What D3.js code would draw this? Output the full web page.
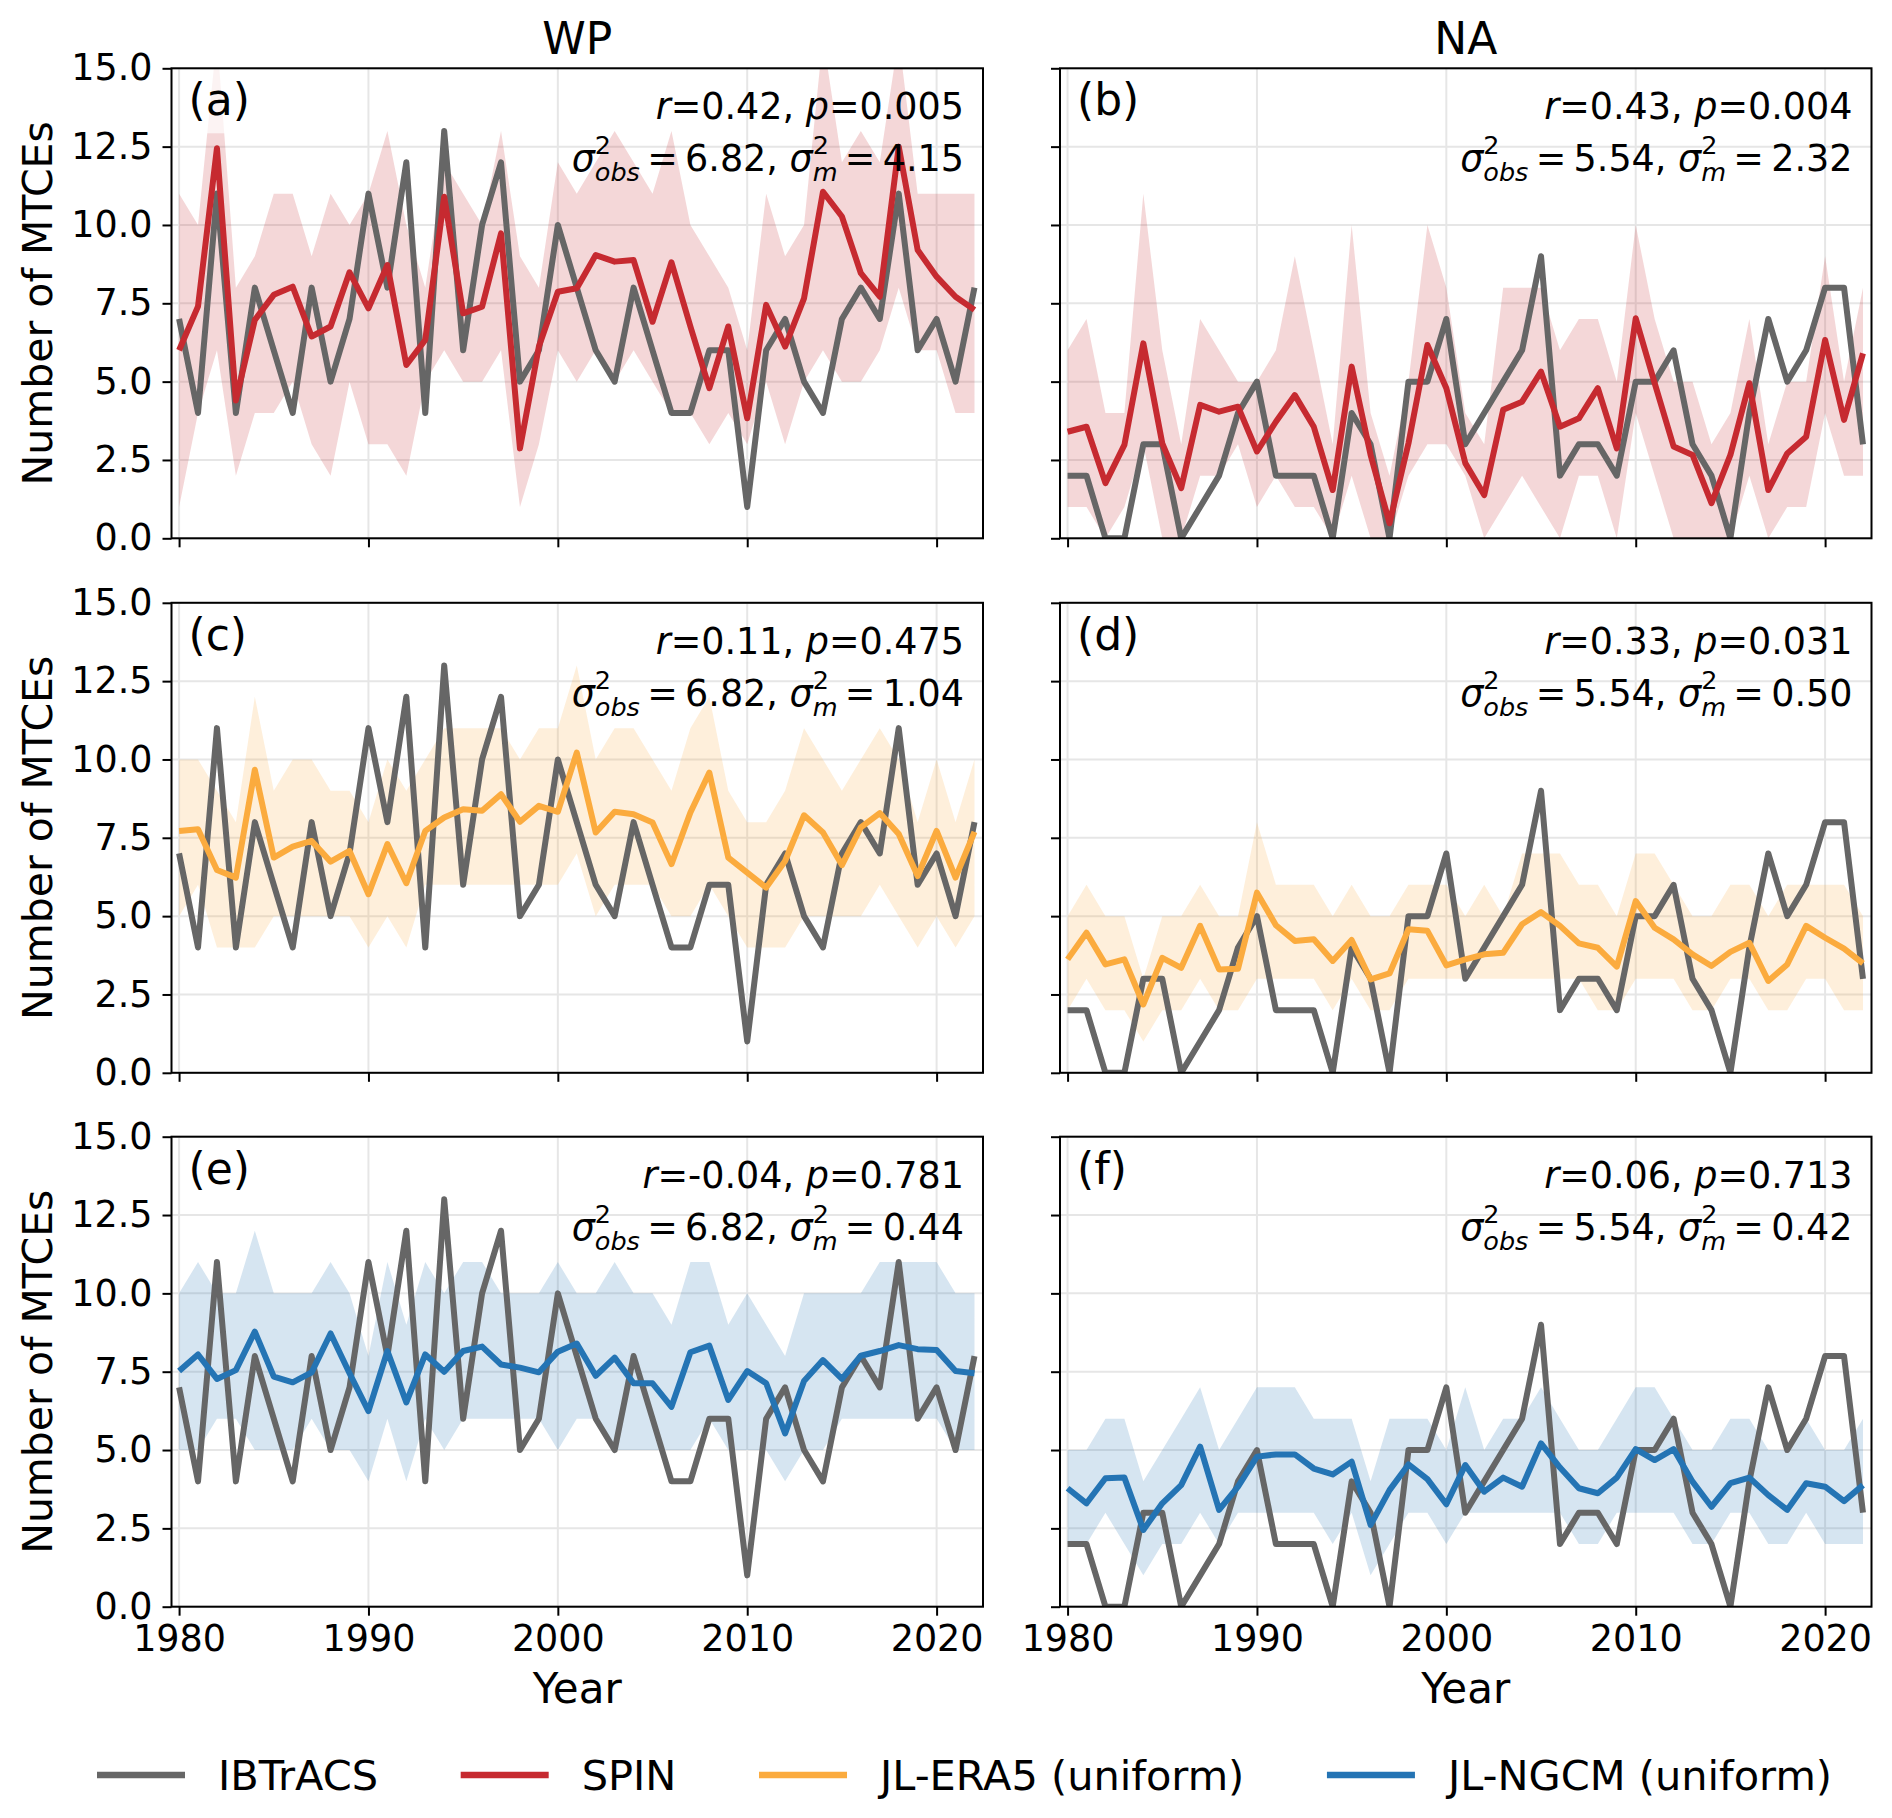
<!DOCTYPE html>
<meta charset="utf-8">
<script src="https://cdn.jsdelivr.net/npm/d3@7"></script>
<style>
  body { margin: 0; background: #fff; }
  text { font-family: "DejaVu Sans", sans-serif; fill: #000; }
</style>
<body>
<script>

// years on the x axis
var years = [1980, 1981, 1982, 1983, 1984, 1985, 1986, 1987, 1988, 1989,
             1990, 1991, 1992, 1993, 1994, 1995, 1996, 1997, 1998, 1999,
             2000, 2001, 2002, 2003, 2004, 2005, 2006, 2007, 2008, 2009,
             2010, 2011, 2012, 2013, 2014, 2015, 2016, 2017, 2018, 2019,
             2020, 2021, 2022]
var xTicks = [1980, 1990, 2000, 2010, 2020]
var yTicks = [0, 2.5, 5, 7.5, 10, 12.5, 15]

// observed counts
var ibtracsWP = [7, 4, 11, 4, 8, 6, 4, 8, 5, 7, 11, 8, 12, 4, 13, 6, 10, 12, 5, 6,
                 10, 8, 6, 5, 8, 6, 4, 4, 6, 6, 1, 6, 7, 5, 4, 7, 8, 7, 11, 6, 7, 5, 8]
var ibtracsNA = [2, 2, 0, 0, 3, 3, 0, 1, 2, 4, 5, 2, 2, 2, 0, 4, 3, 0, 5, 5,
                 7, 3, 4, 5, 6, 9, 2, 3, 3, 2, 5, 5, 6, 3, 2, 0, 4, 7, 5, 6, 8, 8, 3]

// SPIN ensemble mean and spread
var spinWP = [6.0, 7.4, 12.45, 4.4, 6.97, 7.77, 8.03, 6.44, 6.76, 8.49,
              7.34, 8.72, 5.53, 6.33, 10.9, 7.18, 7.39, 9.73, 2.87, 6.12,
              7.87, 7.98, 9.04, 8.83, 8.88, 6.91, 8.81, 6.76, 4.79, 6.76,
              3.83, 7.45, 6.12, 7.66, 11.06, 10.27, 8.46, 7.71, 12.5, 9.2,
              8.35, 7.71, 7.29]
var spinWPLo = [1, 4, 6, 2, 4, 4, 5, 3, 2, 5, 3, 3, 2, 5, 6, 5, 5, 6, 1, 3,
                6, 5, 6, 5, 6, 5, 4, 4, 3, 4, 3, 5, 3, 5, 6, 5, 5, 6, 8, 6, 6, 4, 4]
var spinWPHi = [11, 10, 16, 8, 9, 11, 11, 9, 11, 10, 11, 13, 10, 8, 12, 11, 10, 13, 9, 8,
                12, 11, 12, 13, 12, 11, 13, 10, 9, 8, 6, 11, 9, 10, 16, 12, 13, 12, 16, 11, 11, 11, 11]
var spinNA = [3.4, 3.56, 1.76, 2.98, 6.22, 3.03, 1.6, 4.26, 4.04, 4.2,
              2.77, 3.72, 4.57, 3.56, 1.54, 5.48, 2.66, 0.48, 3.03, 6.17,
              4.79, 2.4, 1.38, 4.1, 4.36, 5.32, 3.56, 3.83, 4.79, 2.87,
              7.02, 4.95, 2.93, 2.66, 1.12, 2.66, 4.95, 1.54, 2.71, 3.24,
              6.33, 3.78, 5.9]
var spinNALo = [1, 1, 0, 1, 3, 0, 0, 2, 2, 3, 1, 2, 1, 1, 0, 2, 0, 0, 2, 3,
                3, 2, 0, 1, 2, 1, 0, 2, 2, 0, 4, 2, 0, 0, 0, 0, 2, 0, 1, 1, 4, 2, 2]
var spinNAHi = [6, 7, 4, 4, 11, 6, 3, 7, 6, 5, 5, 6, 9, 6, 3, 10, 4, 2, 5, 10,
                8, 4, 3, 8, 8, 8, 6, 7, 7, 5, 10, 7, 5, 5, 3, 4, 7, 3, 5, 5, 9, 5, 8]

// JL-ERA5 (uniform)
var era5WP = [7.72, 7.77, 6.47, 6.23, 9.67, 6.87, 7.22, 7.4, 6.74, 7.08,
              5.7, 7.3, 6.05, 7.72, 8.15, 8.41, 8.36, 8.89, 8.01, 8.52,
              8.33, 10.22, 7.67, 8.33, 8.25, 7.99, 6.66, 8.31, 9.58, 6.87,
              6.39, 5.91, 6.76, 8.22, 7.67, 6.63, 7.83, 8.29, 7.62, 6.28,
              7.72, 6.23, 7.69]
var era5WPLo = [5, 6, 4, 4, 4, 5, 5, 5, 5, 5, 4, 5, 4, 6, 6, 6, 6, 6, 6, 6,
                6, 7, 5, 6, 6, 6, 5, 5, 6, 5, 4, 4, 4, 5, 5, 5, 5, 6, 5, 4, 5, 4, 5]
var era5WPHi = [10, 10, 9, 8, 12, 9, 10, 10, 9, 9, 8, 10, 9, 10, 11, 11, 11, 11, 10, 11,
                11, 13, 10, 11, 11, 10, 9, 11, 12, 9, 8, 8, 9, 11, 10, 9, 10, 11, 10, 8, 10, 8, 10]
var era5NA = [3.62, 4.47, 3.46, 3.62, 2.18, 3.67, 3.35, 4.69, 3.3, 3.32,
              5.75, 4.71, 4.21, 4.26, 3.57, 4.24, 2.98, 3.17, 4.58, 4.53,
              3.43, 3.62, 3.78, 3.83, 4.74, 5.13, 4.69, 4.13, 3.99, 3.39,
              5.48, 4.63, 4.26, 3.78, 3.41, 3.86, 4.15, 2.93, 3.46, 4.69,
              4.31, 3.96, 3.49]
var era5NALo = [2, 3, 2, 2, 1, 2, 2, 3, 2, 2, 3, 3, 3, 3, 2, 3, 2, 2, 3, 3,
                3, 3, 3, 3, 3, 3, 3, 3, 2, 2, 3, 3, 3, 2, 2, 3, 3, 2, 2, 3, 3, 2, 2]
var era5NAHi = [5, 6, 5, 5, 3, 5, 5, 6, 5, 5, 8, 6, 6, 6, 5, 6, 5, 5, 6, 6,
                6, 5, 6, 5, 7, 7, 7, 6, 6, 5, 7, 7, 6, 5, 5, 6, 6, 5, 6, 6, 6, 6, 5]

// JL-NGCM (uniform)
var ngcmWP = [7.52, 8.05, 7.27, 7.55, 8.78, 7.34, 7.16, 7.48, 8.72, 7.45,
              6.24, 8.16, 6.52, 8.05, 7.5, 8.16, 8.3, 7.73, 7.63, 7.48,
              8.14, 8.4, 7.37, 7.95, 7.13, 7.13, 6.38, 8.12, 8.33, 6.6,
              7.52, 7.13, 5.53, 7.2, 7.87, 7.27, 8.01, 8.16, 8.35, 8.22,
              8.19, 7.52, 7.45]
var ngcmWPLo = [5, 5, 6, 6, 5, 5, 5, 6, 5, 5, 4, 6, 4, 6, 5, 6, 6, 6, 6, 6,
                5, 6, 6, 5, 5, 5, 5, 5, 6, 5, 5, 5, 4, 5, 5, 6, 6, 6, 6, 6, 6, 5, 5]
var ngcmWPHi = [10, 11, 10, 10, 12, 10, 10, 10, 11, 10, 8, 11, 9, 11, 10, 11, 11, 10, 10, 10,
                11, 10, 10, 11, 10, 10, 9, 11, 11, 9, 10, 9, 8, 10, 10, 10, 10, 11, 11, 11, 11, 10, 10]
var ngcmNA = [3.78, 3.3, 4.1, 4.12, 2.45, 3.3, 3.88, 5.11, 3.09, 3.83,
              4.79, 4.86, 4.86, 4.41, 4.22, 4.63, 2.61, 3.72, 4.54, 4.07,
              3.27, 4.52, 3.67, 4.12, 3.83, 5.21, 4.44, 3.78, 3.62, 4.12,
              5.03, 4.68, 5.03, 3.99, 3.19, 3.94, 4.12, 3.56, 3.09, 3.94,
              3.83, 3.37, 3.88]
var ngcmNALo = [2, 2, 3, 2, 1, 2, 2, 3, 2, 3, 3, 3, 3, 3, 2, 3, 1, 2, 3, 3,
                2, 3, 3, 3, 3, 3, 3, 2, 2, 3, 3, 3, 3, 2, 2, 3, 3, 2, 2, 3, 2, 2, 2]
var ngcmNAHi = [5, 5, 6, 6, 4, 5, 6, 7, 5, 6, 7, 7, 7, 6, 6, 6, 4, 6, 6, 6,
                5, 7, 5, 6, 6, 7, 6, 5, 5, 6, 7, 7, 6, 5, 5, 6, 6, 5, 5, 6, 5, 5, 6]

// statistics printed in each panel (a)-(f)
var panelLetters = ["a", "b", "c", "d", "e", "f"]
var rVals = ["0.42", "0.43", "0.11", "0.33", "-0.04", "0.06"]
var pVals = ["0.005", "0.004", "0.475", "0.031", "0.781", "0.713"]
var varObs = ["6.82", "5.54", "6.82", "5.54", "6.82", "5.54"]
var varModel = ["4.15", "2.32", "1.04", "0.50", "0.44", "0.42"]

var basins = ["WP", "NA"]
var legendNames = ["IBTrACS", "SPIN", "JL-ERA5 (uniform)", "JL-NGCM (uniform)"]
var colors = {obs: "#666666", spin: "#c62a30", era5: "#fbab3e", ngcm: "#2474b4"}

// panel table built from the arrays above
var panels = [
  {obs: ibtracsWP, mean: spinWP, lo: spinWPLo, hi: spinWPHi, col: colors.spin},
  {obs: ibtracsNA, mean: spinNA, lo: spinNALo, hi: spinNAHi, col: colors.spin},
  {obs: ibtracsWP, mean: era5WP, lo: era5WPLo, hi: era5WPHi, col: colors.era5},
  {obs: ibtracsNA, mean: era5NA, lo: era5NALo, hi: era5NAHi, col: colors.era5},
  {obs: ibtracsWP, mean: ngcmWP, lo: ngcmWPLo, hi: ngcmWPHi, col: colors.ngcm},
  {obs: ibtracsNA, mean: ngcmNA, lo: ngcmNALo, hi: ngcmNAHi, col: colors.ngcm}
]

// layout
var W = 1892, H = 1818
var colLeft = [171.5, 1060]
var rowTop = [68.3, 602.8, 1136.7]
var pw = 811.5, ph = 470
var lw = 6

var x = d3.scaleLinear().domain([1979.6, 2022.45]).range([0, pw])
var y = d3.scaleLinear().domain([0, 15]).range([ph, 0])

var svg = d3.select("body").append("svg")
    .attr("width", W).attr("height", H)
    .attr("viewBox", "0 0 " + W + " " + H)

svg.append("rect").attr("width", W).attr("height", H).attr("fill", "#fff")

var defs = svg.append("defs")
defs.append("clipPath").attr("id", "plotclip")
    .append("rect").attr("width", pw).attr("height", ph)

var line = d3.line().x(function(d, i) { return x(years[i]); }).y(function(d) { return y(d); })
var area = d3.area()
    .x(function(d, i) { return x(years[i]); })
    .y0(function(d) { return y(d[0]); })
    .y1(function(d) { return y(d[1]); })

function statText(g, k) {
  var fs = 36.5, ss = 25.5, supW = 0.636 * ss
  var xr = pw - 19
  var t1 = g.append("text").attr("x", xr).attr("y", 51)
      .attr("text-anchor", "end").style("font-size", fs + "px")
  t1.append("tspan").style("font-style", "italic").text("r")
  t1.append("tspan").text("=" + rVals[k] + ", ")
  t1.append("tspan").style("font-style", "italic").text("p")
  t1.append("tspan").text("=" + pVals[k])

  var t2 = g.append("text").attr("x", xr).attr("y", 103)
      .attr("text-anchor", "end").style("font-size", fs + "px")
  function sigma(sub) {
    t2.append("tspan").style("font-style", "italic").text("σ")
    t2.append("tspan").style("font-size", ss + "px").attr("dy", -17).text("2")
    t2.append("tspan").style("font-size", ss + "px").style("font-style", "italic")
      .attr("dx", -supW).attr("dy", 27).text(sub)
  }
  sigma("obs")
  t2.append("tspan").attr("dy", -10).text("\u2009=\u2009" + varObs[k] + ", ")
  sigma("m")
  t2.append("tspan").attr("dy", -10).text("\u2009=\u2009" + varModel[k])
}

panels.forEach(function(p, k) {
  var row = Math.floor(k / 2), col = k % 2
  var g = svg.append("g")
      .attr("transform", "translate(" + colLeft[col] + "," + rowTop[row] + ")")

  // grid
  var grid = g.append("g").attr("stroke", "#e6e6e6").attr("stroke-width", 2)
  grid.selectAll(".gx").data(xTicks).enter().append("line")
      .attr("x1", function(d) { return x(d); }).attr("x2", function(d) { return x(d); })
      .attr("y1", 0).attr("y2", ph)
  grid.selectAll(".gy").data(yTicks).enter().append("line")
      .attr("y1", function(d) { return y(d); }).attr("y2", function(d) { return y(d); })
      .attr("x1", 0).attr("x2", pw)

  var plot = g.append("g").attr("clip-path", "url(#plotclip)")
  var band = p.lo.map(function(v, i) { return [v, p.hi[i]]; })
  plot.append("path").attr("d", area(band))
      .attr("fill", p.col).attr("fill-opacity", 0.19).attr("stroke", "none")
  plot.append("path").attr("d", line(p.obs))
      .attr("fill", "none").attr("stroke", colors.obs).attr("stroke-width", lw)
      .attr("stroke-linejoin", "round")
  plot.append("path").attr("d", line(p.mean))
      .attr("fill", "none").attr("stroke", p.col).attr("stroke-width", lw)
      .attr("stroke-linejoin", "round")

  // panel letter with a faint white box
  var lab = g.append("text").attr("x", 17).attr("y", 47)
      .style("font-size", "44px").text("(" + panelLetters[k] + ")")
  var bb = lab.node().getBBox()
  g.insert("rect", function() { return lab.node(); })
      .attr("x", bb.x - 7).attr("y", Math.max(0, bb.y - 8))
      .attr("width", bb.width + 14).attr("height", bb.y + bb.height + 8 - Math.max(0, bb.y - 8))
      .attr("fill", "#fff").attr("fill-opacity", 0.7)

  statText(g, k)

  // frame
  g.append("rect").attr("width", pw).attr("height", ph)
      .attr("fill", "none").attr("stroke", "#000").attr("stroke-width", 2)

  // axes
  var ya = d3.axisLeft(y).tickValues(yTicks).tickSize(9).tickPadding(10)
      .tickFormat(col === 0 ? d3.format(".1f") : "")
  var xa = d3.axisBottom(x).tickValues(xTicks).tickSize(9).tickPadding(9)
      .tickFormat(row === 2 ? d3.format("d") : "")
  var gy = g.append("g").call(ya)
  var gx = g.append("g").attr("transform", "translate(0," + ph + ")").call(xa)
  ;[gx, gy].forEach(function(a) {
    a.select(".domain").remove()
    a.selectAll(".tick line").attr("stroke", "#000").attr("stroke-width", 2)
    a.selectAll(".tick text").attr("fill", "#000")
      .style("font-family", "DejaVu Sans").style("font-size", "36.5px")
  })

  if (row === 0) {
    g.append("text").attr("x", pw / 2).attr("y", 53.6 - rowTop[0])
        .attr("text-anchor", "middle").style("font-size", "44px").text(basins[col])
  }
  if (row === 2) {
    g.append("text").attr("x", pw / 2).attr("y", ph + 96)
        .attr("text-anchor", "middle").style("font-size", "42px").text("Year")
  }
  if (col === 0) {
    g.append("text")
        .attr("transform", "translate(" + (-120) + "," + (ph / 2) + ") rotate(-90)")
        .attr("text-anchor", "middle").style("font-size", "41px").text("Number of MTCEs")
  }
})

// legend along the bottom
var legColors = [colors.obs, colors.spin, colors.era5, colors.ngcm]
var legStart = 97, legEnd = 1832, handle = 88, hpad = 33, legY = 1775
var leg = svg.append("g")
var items = legendNames.map(function(name, i) {
  var gi = leg.append("g")
  gi.append("line").attr("x1", 0).attr("x2", handle).attr("y1", legY).attr("y2", legY)
      .attr("stroke", legColors[i]).attr("stroke-width", 6.5)
  var t = gi.append("text").attr("x", handle + hpad).attr("y", legY + 15)
      .style("font-size", "41.5px").text(name)
  return {g: gi, w: handle + hpad + t.node().getComputedTextLength()}
})
var totalW = d3.sum(items, function(d) { return d.w; })
var gap = (legEnd - legStart - totalW) / (items.length - 1)
var cx = legStart
items.forEach(function(it) {
  it.g.attr("transform", "translate(" + cx + ",0)")
  cx += it.w + gap
})

</script>
</body>
